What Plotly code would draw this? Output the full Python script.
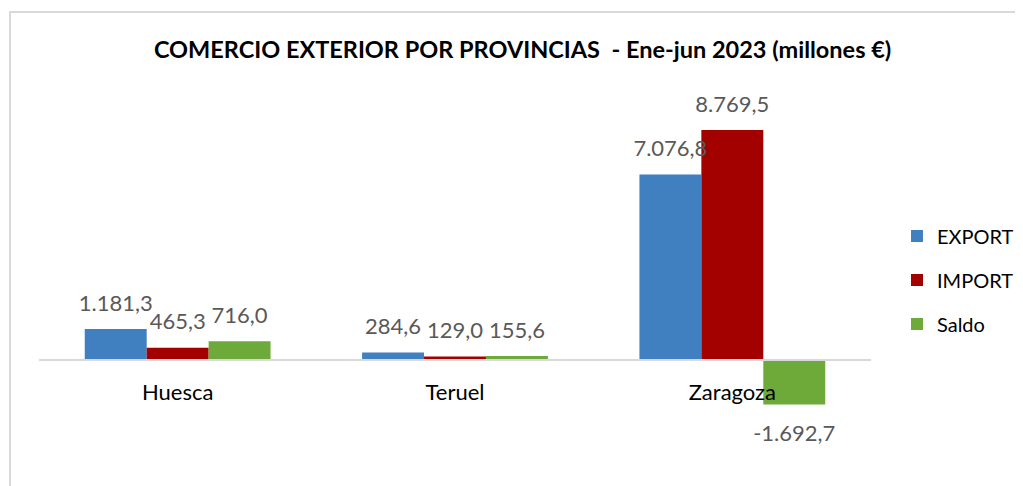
import plotly.graph_objects as go

provincias = ["Huesca", "Teruel", "Zaragoza"]
export_vals = [1181.3, 284.6, 7076.8]
import_vals = [465.3, 129.0, 8769.5]
saldo_vals = [716.0, 155.6, -1692.7]
series_names = ["EXPORT", "IMPORT", "Saldo"]
series_colors = ["#4080c0", "#a30000", "#6eaa3a"]

def fmt(v):
    s = f"{abs(v):,.1f}"
    s = s.replace(",", "X").replace(".", ",").replace("X", ".")
    return ("-" if v < 0 else "") + s

# page body has an 8px margin -> figure is offset by (8, 8) in the screenshot
W, H = 1015, 478
ML, MT, PW, PH = 31, 82, 832, 380
y_min, y_max = -4194, 10294
font_family = "Lato, Carlito, Calibri, sans-serif"
GAP = 0.33

fig = go.Figure()
for name, vals, col in zip(series_names, [export_vals, import_vals, saldo_vals], series_colors):
    fig.add_trace(go.Bar(
        x=provincias, y=vals, name=name, legendgroup=name,
        marker=dict(color=col, line=dict(width=0)),
        hoverinfo="x+y+name",
    ))
for name, vals in zip(series_names, [export_vals, import_vals, saldo_vals]):
    fig.add_trace(go.Scatter(
        x=provincias, y=vals, mode="markers+text", showlegend=False,
        marker=dict(size=[19 if v >= 0 else 30 for v in vals], opacity=0), hoverinfo="skip",
        text=[fmt(v) for v in vals],
        textposition=["top center" if v >= 0 else "bottom center" for v in vals],
        textfont=dict(size=22, color="#595959", family=font_family),
        cliponaxis=False,
    ))

fig.update_layout(
    width=W, height=H,
    margin=dict(l=ML, r=W - ML - PW, t=MT, b=H - MT - PH, autoexpand=False),
    paper_bgcolor="white", plot_bgcolor="white",
    barmode="group", bargap=GAP, bargroupgap=0,
    scattermode="group", scattergap=GAP,
    title=dict(text="<b>COMERCIO EXTERIOR POR PROVINCIAS  - Ene-jun 2023 (millones €)</b>",
               x=0.507, xanchor="center", y=1 - 42 / H, yanchor="middle",
               font=dict(size=23.5, color="black", family=font_family)),
    font=dict(family=font_family),
    legend=dict(xref="container", x=(897 - 8) / W, xanchor="left", y=0.667, yanchor="top",
                font=dict(size=20, color="black", family=font_family),
                tracegroupgap=15, bgcolor="rgba(0,0,0,0)"),
    xaxis=dict(anchor="free", position=(0 - y_min) / (y_max - y_min),
               showline=True, linecolor="#d9d9d9", linewidth=2,
               ticks="outside", ticklen=13, tickcolor="rgba(0,0,0,0)",
               tickfont=dict(size=22, color="black", family=font_family),
               showgrid=False, zeroline=False),
    yaxis=dict(range=[y_min, y_max], visible=False, showgrid=False, zeroline=False),
    shapes=[dict(type="rect", xref="paper", yref="paper",
                 x0=(2 - ML) / PW, x1=(W + 20 - ML) / PW,
                 y0=(MT + PH - (H + 20)) / PH, y1=(MT + PH - 4) / PH,
                 line=dict(color="#d9d9d9", width=2), fillcolor="rgba(0,0,0,0)", layer="below")],
)

fig.write_html("out.html")
